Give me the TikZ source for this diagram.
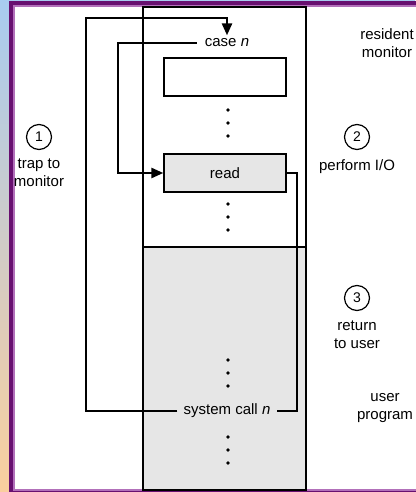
\documentclass[tikz,border=0pt]{standalone}
\usepackage{fontspec}
\setmainfont{Liberation Sans}
\usetikzlibrary{arrows.meta, positioning}
\definecolor{framedark}{RGB}{104,16,112}
\definecolor{framelight}{RGB}{178,112,186}
\definecolor{slidetop}{RGB}{168,204,240}
\definecolor{slidebottom}{RGB}{250,206,158}
\definecolor{usergray}{RGB}{230,230,230}

\begin{document}
\begin{tikzpicture}[
  x=1pt, y=-1pt,
  font=\fontsize{15}{18}\selectfont,
  slot/.style={rectangle, draw, minimum width=122pt, minimum height=38pt, inner sep=0pt},
  conn/.style={line width=2.5pt},
  tip/.style={-{Triangle[length=12pt, width=10pt]}},
  stepnum/.style={circle, draw, line width=1.2pt, minimum size=25pt, inner sep=0pt, font=\fontsize{14}{16}\selectfont},
  note/.style={align=center, inner sep=2pt},
]
  \useasboundingbox (0,0) rectangle (415,492);
  % slide background and frame
  \shade[top color=slidetop, bottom color=slidebottom] (0,0) rectangle (415,492);
  \fill[framedark] (9,1) rectangle (425,500);
  \fill[framelight] (13,5) rectangle (425,491);
  \fill[white] (15,7) rectangle (425,489);

  % memory layout
  \fill[usergray] (143,247) rectangle (306,490);
  \draw[line width=1.8pt] (143,7) rectangle (306,490);
  \draw[line width=2pt] (143,247) -- (306,247);

  \node[slot, line width=2.4pt] (table) at (225,77) {};
  \node[slot, fill=usergray, line width=1.3pt] (read) at (225,173) {read};
  \node[inner xsep=8pt] (casen) at (227,43) {case \textit{n}};
  \node[inner xsep=6pt] (syscall) at (227,411) {system call \textit{n}};

  \foreach \y in {110,123,136,204,217,230,360,373,386,437,450,463}
    \fill (228,\y) circle (1.9pt);

  % control flow
  \coordinate (trapcorner) at (86,18);
  \coordinate (dispatch) at (118,43);
  \coordinate (iocorner) at (297,173);
  \draw[conn, tip] (syscall.west) -| (trapcorner) -| (casen.north);
  \draw[conn, tip] (casen.west) -- (dispatch) |- (read.west);
  \draw[conn] (read.east) -- (iocorner) |- (syscall.east);

  % labels
  \node[stepnum] (one) at (39,137) {1};
  \node[note, below=7pt of one] (trap) {trap to\\monitor};
  \node[stepnum] (two) at (357,137) {2};
  \node[note, below=7pt of two] (perform) {perform I/O};
  \node[stepnum] (three) at (357,298) {3};
  \node[note, below=7pt of three] (return) {return\\to user};
  \node[note] (resident) at (387,43) {resident\\monitor};
  \node[note] (userprog) at (385,408) {user\\program};
\end{tikzpicture}
\end{document}
